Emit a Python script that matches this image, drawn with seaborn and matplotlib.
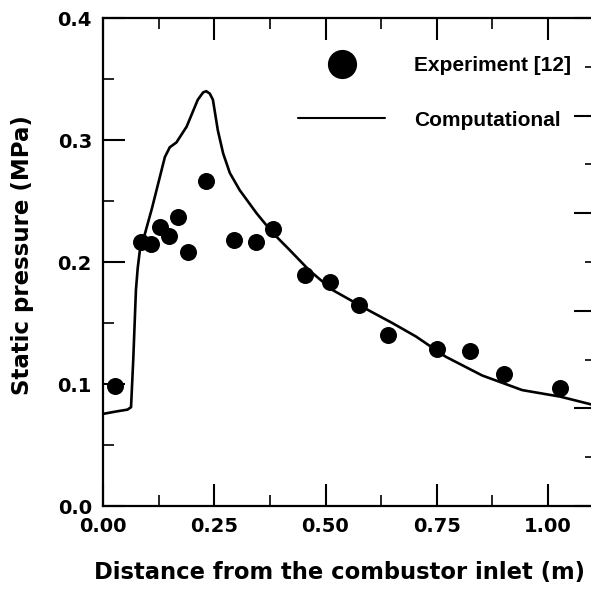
import numpy as np
import pandas as pd
import seaborn as sns
import matplotlib
matplotlib.use("Agg")
import matplotlib.pyplot as plt
from matplotlib.lines import Line2D
from matplotlib.ticker import MultipleLocator

# Experimental data
exp_x = [0.027, 0.086, 0.108, 0.128, 0.148, 0.168, 0.190, 0.232, 0.295, 0.343,
         0.383, 0.455, 0.509, 0.575, 0.641, 0.750, 0.824, 0.901, 1.028]
exp_y = [0.098, 0.216, 0.215, 0.229, 0.221, 0.237, 0.208, 0.266, 0.218, 0.216,
         0.227, 0.189, 0.184, 0.165, 0.140, 0.129, 0.127, 0.108, 0.097]

# Computational curve
comp_x = [0.0, 0.03, 0.055, 0.063, 0.068, 0.074, 0.078, 0.083, 0.088, 0.110,
          0.139, 0.150, 0.165, 0.188, 0.213, 0.225, 0.232, 0.240, 0.247, 0.258,
          0.270, 0.285, 0.307, 0.345, 0.381, 0.419, 0.464, 0.516, 0.599, 0.650,
          0.703, 0.770, 0.852, 0.942, 1.028, 1.100]
comp_y = [0.0755, 0.0775, 0.079, 0.081, 0.12, 0.177, 0.195, 0.210, 0.215, 0.244,
          0.286, 0.294, 0.298, 0.311, 0.333, 0.339, 0.340, 0.338, 0.333, 0.308,
          0.289, 0.273, 0.259, 0.240, 0.224, 0.210, 0.193, 0.177, 0.160, 0.150,
          0.139, 0.1224, 0.107, 0.095, 0.0896, 0.083]

xticks = [0.00, 0.25, 0.50, 0.75, 1.00]
yticks = [0.0, 0.1, 0.2, 0.3, 0.4]

sns.set_style("ticks")
plt.rcParams['font.family'] = ['DejaVu Sans']
plt.rcParams.update({"text.color": "black", "axes.labelcolor": "black",
                     "xtick.color": "black", "ytick.color": "black",
                     "axes.edgecolor": "black"})

fig = plt.figure(figsize=(5.91, 5.89), dpi=100)
ax = fig.add_axes([103/591, 83/589, 489.5/591, 488/589])

df_c = pd.DataFrame({"x": comp_x, "y": comp_y})
df_e = pd.DataFrame({"x": exp_x, "y": exp_y})
sns.lineplot(data=df_c, x="x", y="y", ax=ax, color="black", linewidth=1.9,
             sort=False, estimator=None)
sns.scatterplot(data=df_e, x="x", y="y", ax=ax, color="black", s=150,
                edgecolor="black", linewidth=0, zorder=3)

ax.set_xlim(0, 1.1)
ax.set_ylim(0, 0.4)
ax.set_xticks(xticks)
ax.set_yticks(yticks)
ax.set_xticklabels([f"{v:.2f}" for v in xticks], fontweight="bold", fontsize=14)
ax.set_yticklabels([f"{v:.1f}" for v in yticks], fontweight="bold", fontsize=14)
ax.xaxis.set_minor_locator(MultipleLocator(0.125))
ax.yaxis.set_minor_locator(MultipleLocator(0.05))
ax.tick_params(which="major", direction="in", length=16, width=1.5,
               top=True, right=False, pad=8, colors="black")
ax.tick_params(which="minor", direction="in", length=8, width=1.2,
               top=True, right=False)
ax.set_xlabel("Distance from the combustor inlet (m)", fontweight="bold",
              fontsize=16.3)
ax.set_ylabel("Static pressure (MPa)", fontweight="bold", fontsize=16.5)
ax.xaxis.set_label_coords((340 - 103) / 489.5, -(573 - 506) / 488)
ax.yaxis.set_label_coords(-(103 - 22) / 489.5, (506 - 255) / 488)
ax.xaxis.label.set_va("center")
ax.yaxis.label.set_va("center")
for s in ["left", "bottom", "top"]:
    ax.spines[s].set_linewidth(1.6)
    ax.spines[s].set_color("black")
ax.spines["right"].set_visible(False)

# Right-hand axis with independent tick marks only
ax2 = ax.twinx()
ax2.set_ylim(0, 5)
ax2.yaxis.set_major_locator(MultipleLocator(1))
ax2.yaxis.set_minor_locator(MultipleLocator(0.5))
ax2.tick_params(which="major", direction="in", length=14, width=1.5,
                labelright=False)
ax2.tick_params(which="minor", direction="in", length=6, width=1.2)
for s in ax2.spines.values():
    s.set_visible(False)

handles = [Line2D([], [], marker="o", color="black", linestyle="none",
                  markersize=20),
           Line2D([], [], color="black", linewidth=1.5)]
leg = ax.legend(handles, ["Experiment [12]", "Computational"],
                loc="upper left", bbox_to_anchor=(187/489.5, 1 - 30/488),
                frameon=False, handlelength=4.15, handletextpad=1.4,
                labelspacing=1.7, borderaxespad=0,
                prop={"family": ["Liberation Sans Narrow", "Liberation Sans"],
                      "weight": "bold", "size": 15})
for t in leg.get_texts():
    t.set_color("black")

fig.savefig("out.png", dpi=100)
